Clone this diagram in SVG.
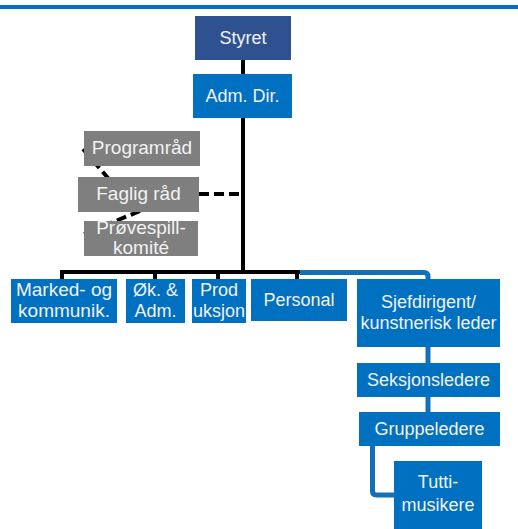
<svg xmlns="http://www.w3.org/2000/svg" width="518" height="529" viewBox="0 0 518 529">
<style>
.b{fill:#0070C0}
.g{fill:#7F7F7F}
.d{fill:#2E528F}
text{font-family:"Liberation Sans",Arial,sans-serif;font-size:18px;fill:#F2F2F2;text-anchor:middle}
.l{font-size:19px}
.k{stroke:#000;stroke-width:4;fill:none}
.bl{stroke:#1170B8;stroke-width:5;fill:none;stroke-linejoin:round}
.ds{stroke:#000;stroke-width:4;fill:none;stroke-dasharray:10 5}
</style>
<rect x="0" y="5" width="518" height="4" fill="#0070C0"/>
<g id="connectors">
<path class="k" d="M243 60V273"/>
<path class="k" d="M62 279V272H300"/>
<path class="k" d="M155 279V272M218 279V272M297 279V272"/>
<path class="bl" d="M300 272.5H424q4 0 4 4V280"/>
<path class="bl" d="M428 347V363M428 397V412"/>
<path class="bl" d="M372.5 446V491q0 4 4 4H395"/>
<path class="ds" d="M199 194H240"/>
<path class="ds" d="M83 149L108 178"/>
<path class="ds" d="M140 211L84 234"/>
</g>
<g id="styret"><rect class="d" x="195" y="16" width="96" height="44"/><text x="243" y="44">Styret</text></g>
<g id="admdir"><rect class="b" x="193" y="74" width="99" height="44"/><text x="242.5" y="102">Adm. Dir.</text></g>
<g id="programrad"><rect class="g" x="84" y="131" width="116" height="35"/><text class="l" x="142" y="154">Programråd</text></g>
<g id="fagligrad"><rect class="g" x="78" y="177" width="121" height="35"/><text class="l" x="138.5" y="200">Faglig råd</text></g>
<g id="provespill"><rect class="g" x="84" y="221" width="114" height="35"/><text class="l" x="141" y="234">Prøvespill-</text><text class="l" x="141" y="254">komité</text></g>
<g id="marked"><rect class="b" x="11" y="279" width="106" height="44"/><text class="l" x="64" y="296">Marked- og</text><text class="l" x="64" y="317">kommunik.</text></g>
<g id="okadm"><rect class="b" x="126" y="279" width="59" height="44"/><text x="155.5" y="296">Øk. &amp;</text><text x="155.5" y="317">Adm.</text></g>
<g id="produksjon"><rect class="b" x="192" y="279" width="54" height="44"/><text x="219" y="296">Prod</text><text x="219" y="317">uksjon</text></g>
<g id="personal"><rect class="b" x="251" y="279" width="96" height="42"/><text x="299" y="306">Personal</text></g>
<g id="sjefdirigent"><rect class="b" x="357" y="279" width="143" height="68"/><text x="428.5" y="308">Sjefdirigent/</text><text x="428.5" y="329">kunstnerisk leder</text></g>
<g id="seksjonsledere"><rect class="b" x="357" y="363" width="143" height="34"/><text x="428.5" y="386">Seksjonsledere</text></g>
<g id="gruppeledere"><rect class="b" x="359" y="412" width="141" height="34"/><text x="429.5" y="435">Gruppeledere</text></g>
<g id="tutti"><rect class="b" x="394" y="461" width="88" height="68"/><text x="438" y="488">Tutti-</text><text x="438" y="511">musikere</text></g>
</svg>
